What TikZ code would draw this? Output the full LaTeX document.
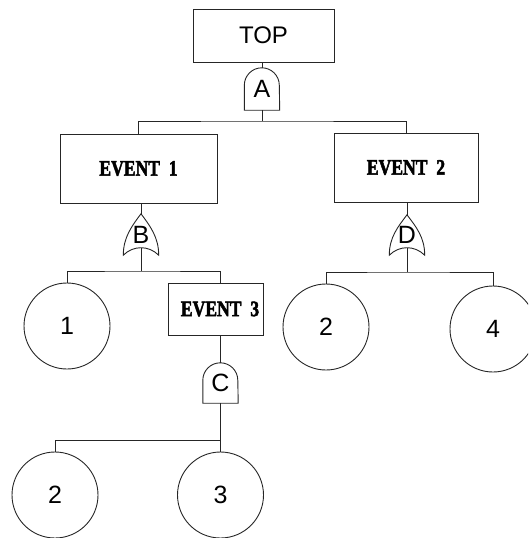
\documentclass[tikz,border=0pt]{standalone}
\usepackage{fontspec}
\setmainfont{Liberation Sans}
\newfontfamily\eventfont{Liberation Serif}[BoldFeatures={FakeBold=2.5}]
\begin{document}
\begin{tikzpicture}[x=1pt,y=1pt,
  line/.style={draw=black!85, line width=0.9pt},
  eventbox/.style={line, rectangle, inner sep=0pt, align=center,
    font=\eventfont\bfseries\fontsize{22}{22}\selectfont},
  basic/.style={line, circle, minimum size=86pt, inner sep=0pt,
    font=\fontsize{25}{25}\selectfont},
  gatebox/.style={rectangle, inner sep=0pt, minimum width=35pt,
    font=\fontsize{25}{25}\selectfont},
  bigtext/.style={font=\fontsize{24}{24}\selectfont}]
  \useasboundingbox (0,0) rectangle (528,-538);
  \clip (0,0) rectangle (528,-538);

  % top event
  \node[line, rectangle, inner sep=0pt, minimum width=141pt, minimum height=53pt, bigtext]
    (top) at (263.5,-35.5) {TOP};

  % gates
  \node[gatebox, minimum height=42pt] (gA) at (262,-89) {A};
  \node[gatebox, minimum height=41pt] (gB) at (141,-234.5) {B};
  \node[gatebox, minimum height=40pt] (gD) at (407,-235) {D};
  \node[gatebox, minimum height=40pt] (gC) at (220.5,-383) {C};

  % intermediate events
  \node[eventbox, minimum width=157pt, minimum height=69pt] (ev1) at (138.5,-168.5)
    {\scalebox{0.8}[1]{EVENT\hspace{11pt}1}};
  \node[eventbox, minimum width=144pt, minimum height=69pt] (ev2) at (406,-167.5)
    {\scalebox{0.8}[1]{EVENT\hspace{11pt}2}};
  \node[eventbox, minimum width=95pt, minimum height=52pt] (ev3) at (216,-309)
    {\hspace*{8pt}\scalebox{0.8}[1]{EVENT\hspace{11pt}3}};

  % basic events
  \node[basic] (b1)  at (67,-326) {1};
  \node[basic] (b2r) at (326,-327) {2};
  \node[basic] (b4)  at (493,-329) {4};
  \node[basic] (b2l) at (55,-495) {2};
  \node[basic] (b3)  at (220.5,-495) {3};

  % AND gate outlines
  \foreach \g in {gA,gC}
    \draw[line] (\g.south west) -- ([yshift=-17.5pt]\g.north west)
      arc[start angle=180, end angle=0, radius=17.5pt] -- (\g.south east) -- cycle;

  % OR gate outlines
  \foreach \g in {gB,gD}
    \draw[line] (\g.south west) .. controls +(0,18) and +(-9,-12) .. (\g.north)
      .. controls +(9,-12) and +(0,18) .. (\g.south east)
      .. controls +(-10,10) and +(10,10) .. (\g.south west) -- cycle;

  % bus coordinates
  \coordinate (busA) at (262,-121);
  \coordinate (busB) at (141,-271);
  \coordinate (busD) at (407,-272);
  \coordinate (busC) at (220.5,-440);

  % connectors
  \draw[line] (top.south -| gA.north) -- (gA.north);
  \draw[line] (gA.south) -- (busA);
  \draw[line] (ev1.north) |- (busA) -| (ev2.north);

  \draw[line] (ev1.south -| gB.north) -- (gB.north);
  \draw[line] ([yshift=7pt]gB.south) -- (busB);
  \draw[line] (b1.north) |- (busB) -| (ev3.north -| gC.north);

  \draw[line] (ev2.south -| gD.north) -- (gD.north);
  \draw[line] ([yshift=7pt]gD.south) -- (busD);
  \draw[line] (b2r.north) |- (busD) -| (b4.north);

  \draw[line] (ev3.south -| gC.north) -- (gC.north);
  \draw[line] (gC.south) -- (busC);
  \draw[line] (b2l.north) |- (busC) -- (b3.north);
\end{tikzpicture}
\end{document}
